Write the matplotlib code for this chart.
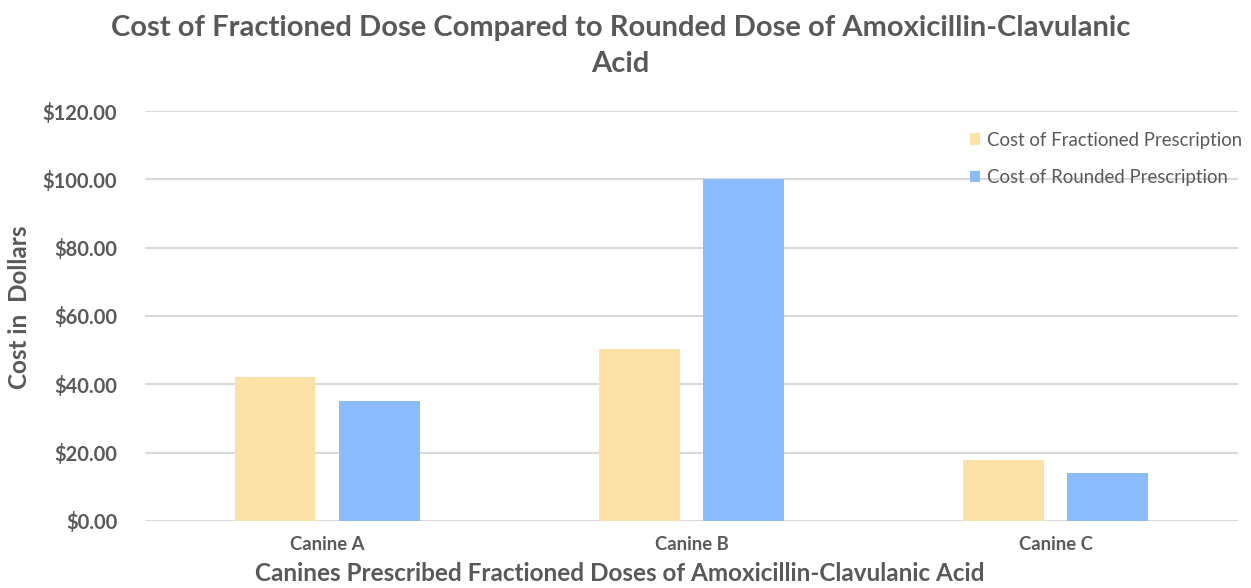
import matplotlib
matplotlib.use("Agg")
import matplotlib.pyplot as plt
import numpy as np
from matplotlib.ticker import FuncFormatter

categories = ["Canine A", "Canine B", "Canine C"]
fractioned = [42.0, 50.4, 17.8]
rounded = [35.0, 100.2, 14.0]
series_names = ["Cost of Fractioned Prescription", "Cost of Rounded Prescription"]
yticks = [0, 20, 40, 60, 80, 100, 120]

plt.rcParams['font.family'] = ['Lato', 'DejaVu Sans']
grey = '#595959'

fig = plt.figure(figsize=(12.51, 5.88), dpi=100)
ax = fig.add_axes([0.1159, 0.114, 0.8737, 0.6972])

x = np.arange(len(categories))
w = 0.222
off = 0.143
ax.bar(x - off, fractioned, w, color='#FCE2A6', label=series_names[0], zorder=3)
ax.bar(x + off, rounded, w, color='#8ABBFC', label=series_names[1], zorder=3)

ax.set_xlim(-0.5, 2.5)
ax.set_ylim(0, 120)
ax.set_yticks(yticks)
ax.yaxis.set_major_formatter(FuncFormatter(lambda v, p: f"${v:,.2f}"))
ax.set_xticks(x)
ax.set_xticklabels(categories)
ax.grid(axis='y', color='#d9d9d9', linewidth=1.5, zorder=0)
for s in ax.spines.values():
    s.set_visible(False)
ax.tick_params(axis='both', length=0, colors=grey)
for lab in ax.get_yticklabels():
    lab.set_fontsize(14.5)
    lab.set_fontweight('bold')
    lab.set_color(grey)
for lab in ax.get_xticklabels():
    lab.set_fontsize(13.3)
    lab.set_fontweight('bold')
    lab.set_color(grey)
ax.tick_params(axis='y', pad=20)
ax.tick_params(axis='x', pad=11)

ax.set_ylabel("Cost in  Dollars", fontsize=17.5, fontweight='bold', color=grey, labelpad=6)
ax.yaxis.set_label_coords(-0.104, 0.522)
ax.set_xlabel("Canines Prescribed Fractioned Doses of Amoxicillin-Clavulanic Acid",
              fontsize=17.5, fontweight='bold', color=grey)
ax.xaxis.set_label_coords(0.434, -0.1)

fig.text(0.496, 0.974, "Cost of Fractioned Dose Compared to Rounded Dose of Amoxicillin-Clavulanic\nAcid",
         ha='center', va='top', fontsize=21, fontweight='bold', color=grey, linespacing=1.45)

leg = ax.legend(loc='upper left', bbox_to_anchor=(0.755, 0.95), frameon=False,
                borderaxespad=0, borderpad=0,
                handlelength=0.55, handleheight=0.55, handletextpad=0.35,
                labelspacing=1.1, fontsize=13.4)
for t in leg.get_texts():
    t.set_color(grey)

fig.savefig("out.png", dpi=100)
